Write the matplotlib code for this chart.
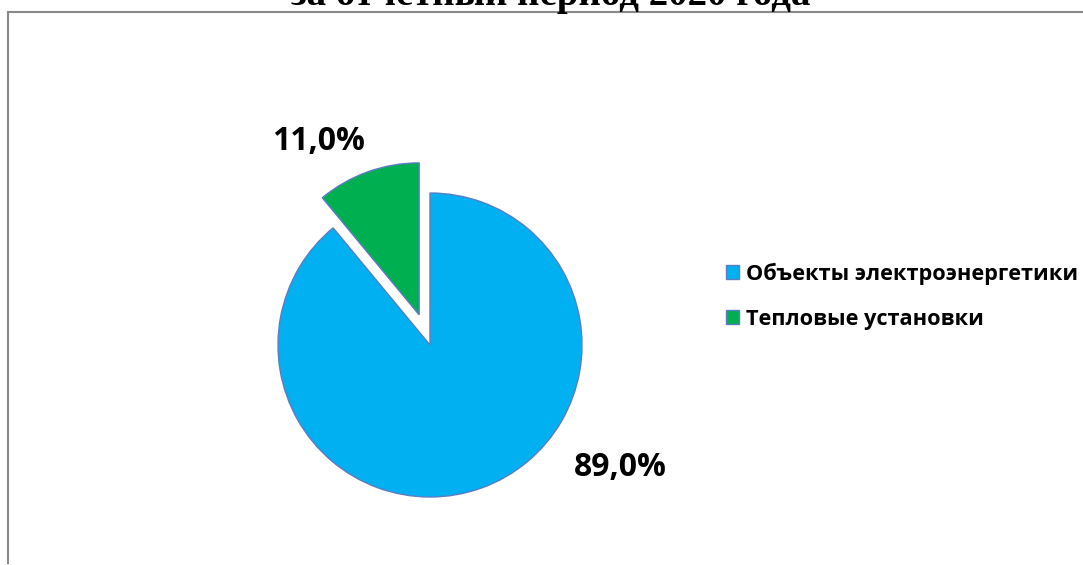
import matplotlib
matplotlib.use("Agg")
import matplotlib.pyplot as plt
from matplotlib.lines import Line2D

# ── data ──────────────────────────────────────────────────────────────────────
categories = ["Объекты электроэнергетики", "Тепловые установки"]
shares = [89.0, 11.0]
share_labels = ["89,0%", "11,0%"]
colours = ["#00B0F0", "#00B050"]
title = "за отчетный период 2020 года"

W, H = 1083, 565
fig = plt.figure(figsize=(W / 100, H / 100), dpi=100)
fig.patch.set_facecolor("white")

# axes in pixel units (y up), so the pie can be placed by pixels
ax = fig.add_axes([0, 0, 1, 1])
wedges, _ = ax.pie(shares, colors=colours, startangle=90, counterclock=False,
                   explode=[0, 32], center=(430, H - 345), radius=152,
                   wedgeprops=dict(edgecolor="#5B7DC4", linewidth=1.0),
                   frame=True)
ax.set_xlim(0, W)
ax.set_ylim(0, H)
ax.set_aspect("equal")
ax.axis("off")

# percentage labels
ax.text(620, H - 468, share_labels[0], ha="center", va="center",
        fontsize=23, fontweight="bold", family="Open Sans")
ax.text(319, H - 142, share_labels[1], ha="center", va="center",
        fontsize=23, fontweight="bold", family="Open Sans")

# legend
ax.legend(wedges, categories, loc="center left",
          bbox_to_anchor=(726 / W, 1 - 296 / H), frameon=False,
          prop=dict(family="Open Sans", weight="bold", size=15.7),
          handlelength=0.6, handleheight=0.6, handletextpad=0.3,
          labelspacing=1.1, borderpad=0, borderaxespad=0)

# chart frame (partly cropped)
fig.add_artist(Line2D([7.5 / W, 1], [1 - 12 / H, 1 - 12 / H],
                      transform=fig.transFigure, color="#8a8a8a", lw=1.5))
fig.add_artist(Line2D([7.5 / W, 7.5 / W], [1 - 12 / H, 1 - 563 / H],
                      transform=fig.transFigure, color="#8a8a8a", lw=1.5))

# cropped title above the frame
fig.text(551 / W, 1 - 5 / H, title, ha="center", va="baseline",
         fontsize=28, fontweight="bold", family="Liberation Serif")

fig.savefig("out.png", dpi=100)
